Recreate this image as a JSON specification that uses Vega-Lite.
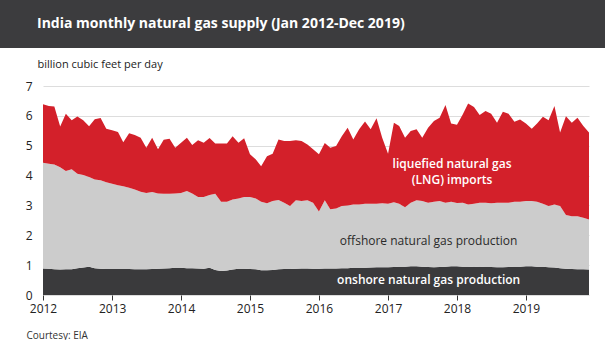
{
  "$schema": "https://vega.github.io/schema/vega-lite/v6.json",
  "padding": 0,
  "background": "white",
  "spacing": 10,
  "columns": 1,
  "align": "none",
  "config": {"view": {"stroke": null}, "font": "Open Sans"},
  "concat": [
    {
      "width": 605,
      "height": 48,
      "view": {"fill": "#3c3c3e", "stroke": null},
      "title": {"text": "India monthly natural gas supply (Jan 2012-Dec 2019)", "anchor": "start", "frame": "group", "offset": -42, "dx": 37, "color": "white", "fontSize": 14, "fontWeight": "bold", "font": "Open Sans", "baseline": "alphabetic"},
      "mark": {"type": "rule", "opacity": 0},
      "encoding": {}
    },
    {
      "width": 589,
      "height": 209,
      "encoding": {
        "x": {
          "field": "date", "type": "temporal",
          "scale": {"type": "utc", "nice": false, "range": [43, 589], "domain": [{"year": 2012, "month": 1, "date": 1, "utc": true}, {"year": 2019, "month": 12, "date": 1, "utc": true}]},
          "axis": {"format": "%Y", "tickCount": {"interval": "year", "step": 1}, "labelFontSize": 12, "labelColor": "#222222", "tickColor": "#333333", "tickSize": 5, "domain": false, "grid": false, "labelPadding": 3, "labelFlush": false,
                   "title": "Courtesy: EIA", "titleAnchor": "start", "titleX": 26, "titleY": 43, "titleAlign": "left", "titleBaseline": "alphabetic", "titleFontSize": 10, "titleFontWeight": "normal", "titleColor": "#333333"}
        },
        "y": {
          "field": "value", "type": "quantitative",
          "scale": {"domain": [0, 7], "nice": false},
          "axis": {"values": [0, 1, 2, 3, 4, 5, 6, 7], "offset": -43, "labelOverlap": false, "grid": true, "gridColor": "#dddddd", "gridWidth": 1, "ticks": false, "domain": false, "labelFontSize": 12, "labelColor": "#222222", "labelPadding": 11,
                   "title": "billion cubic feet per day", "titleAngle": 0, "titleX": -6, "titleY": -19, "titleAlign": "left", "titleBaseline": "alphabetic", "titleFontSize": 11, "titleFontWeight": "normal", "titleColor": "#222222"}
        }
      },
      "layer": [
        {
          "data": {"values": [
            {"date":"2012-01-01","onshore":0.89,"offshore":3.54,"lng":1.96},
            {"date":"2012-02-01","onshore":0.88,"offshore":3.52,"lng":1.93},
            {"date":"2012-03-01","onshore":0.86,"offshore":3.51,"lng":1.94},
            {"date":"2012-04-01","onshore":0.85,"offshore":3.43,"lng":1.36},
            {"date":"2012-05-01","onshore":0.86,"offshore":3.29,"lng":1.92},
            {"date":"2012-06-01","onshore":0.86,"offshore":3.35,"lng":1.64},
            {"date":"2012-07-01","onshore":0.90,"offshore":3.16,"lng":1.92},
            {"date":"2012-08-01","onshore":0.92,"offshore":3.10,"lng":1.83},
            {"date":"2012-09-01","onshore":0.95,"offshore":3.00,"lng":1.70},
            {"date":"2012-10-01","onshore":0.90,"offshore":2.97,"lng":2.02},
            {"date":"2012-11-01","onshore":0.88,"offshore":2.96,"lng":2.09},
            {"date":"2012-12-01","onshore":0.87,"offshore":2.91,"lng":1.79},
            {"date":"2013-01-01","onshore":0.87,"offshore":2.86,"lng":1.79},
            {"date":"2013-02-01","onshore":0.87,"offshore":2.81,"lng":1.78},
            {"date":"2013-03-01","onshore":0.87,"offshore":2.77,"lng":1.48},
            {"date":"2013-04-01","onshore":0.87,"offshore":2.72,"lng":1.83},
            {"date":"2013-05-01","onshore":0.86,"offshore":2.67,"lng":1.83},
            {"date":"2013-06-01","onshore":0.86,"offshore":2.60,"lng":1.81},
            {"date":"2013-07-01","onshore":0.86,"offshore":2.56,"lng":1.51},
            {"date":"2013-08-01","onshore":0.87,"offshore":2.58,"lng":1.82},
            {"date":"2013-09-01","onshore":0.88,"offshore":2.52,"lng":1.48},
            {"date":"2013-10-01","onshore":0.89,"offshore":2.50,"lng":1.81},
            {"date":"2013-11-01","onshore":0.90,"offshore":2.49,"lng":1.84},
            {"date":"2013-12-01","onshore":0.91,"offshore":2.49,"lng":1.53},
            {"date":"2014-01-01","onshore":0.91,"offshore":2.51,"lng":1.68},
            {"date":"2014-02-01","onshore":0.90,"offshore":2.58,"lng":1.79},
            {"date":"2014-03-01","onshore":0.90,"offshore":2.50,"lng":1.62},
            {"date":"2014-04-01","onshore":0.89,"offshore":2.39,"lng":1.90},
            {"date":"2014-05-01","onshore":0.88,"offshore":2.40,"lng":1.82},
            {"date":"2014-06-01","onshore":0.91,"offshore":2.44,"lng":1.91},
            {"date":"2014-07-01","onshore":0.84,"offshore":2.55,"lng":1.68},
            {"date":"2014-08-01","onshore":0.80,"offshore":2.32,"lng":1.95},
            {"date":"2014-09-01","onshore":0.82,"offshore":2.30,"lng":1.95},
            {"date":"2014-10-01","onshore":0.85,"offshore":2.35,"lng":2.12},
            {"date":"2014-11-01","onshore":0.88,"offshore":2.35,"lng":1.87},
            {"date":"2014-12-01","onshore":0.88,"offshore":2.40,"lng":1.97},
            {"date":"2015-01-01","onshore":0.87,"offshore":2.41,"lng":1.43},
            {"date":"2015-02-01","onshore":0.86,"offshore":2.37,"lng":1.31},
            {"date":"2015-03-01","onshore":0.83,"offshore":2.29,"lng":1.19},
            {"date":"2015-04-01","onshore":0.83,"offshore":2.24,"lng":1.58},
            {"date":"2015-05-01","onshore":0.84,"offshore":2.31,"lng":1.58},
            {"date":"2015-06-01","onshore":0.86,"offshore":2.32,"lng":2.03},
            {"date":"2015-07-01","onshore":0.87,"offshore":2.22,"lng":2.07},
            {"date":"2015-08-01","onshore":0.87,"offshore":2.11,"lng":2.18},
            {"date":"2015-09-01","onshore":0.88,"offshore":2.29,"lng":2.01},
            {"date":"2015-10-01","onshore":0.89,"offshore":2.26,"lng":2.01},
            {"date":"2015-11-01","onshore":0.89,"offshore":2.28,"lng":1.87},
            {"date":"2015-12-01","onshore":0.88,"offshore":2.21,"lng":1.79},
            {"date":"2016-01-01","onshore":0.88,"offshore":1.92,"lng":1.91},
            {"date":"2016-02-01","onshore":0.89,"offshore":2.28,"lng":1.92},
            {"date":"2016-03-01","onshore":0.89,"offshore":1.98,"lng":2.06},
            {"date":"2016-04-01","onshore":0.89,"offshore":2.01,"lng":2.09},
            {"date":"2016-05-01","onshore":0.90,"offshore":2.08,"lng":2.34},
            {"date":"2016-06-01","onshore":0.90,"offshore":2.10,"lng":2.60},
            {"date":"2016-07-01","onshore":0.91,"offshore":2.12,"lng":2.18},
            {"date":"2016-08-01","onshore":0.91,"offshore":2.12,"lng":2.52},
            {"date":"2016-09-01","onshore":0.91,"offshore":2.15,"lng":2.75},
            {"date":"2016-10-01","onshore":0.92,"offshore":2.14,"lng":2.49},
            {"date":"2016-11-01","onshore":0.93,"offshore":2.13,"lng":2.86},
            {"date":"2016-12-01","onshore":0.93,"offshore":2.14,"lng":2.20},
            {"date":"2017-01-01","onshore":0.93,"offshore":2.13,"lng":1.67},
            {"date":"2017-02-01","onshore":0.94,"offshore":2.17,"lng":2.66},
            {"date":"2017-03-01","onshore":0.95,"offshore":2.11,"lng":2.60},
            {"date":"2017-04-01","onshore":0.95,"offshore":1.99,"lng":2.33},
            {"date":"2017-05-01","onshore":0.96,"offshore":2.13,"lng":2.40},
            {"date":"2017-06-01","onshore":0.96,"offshore":2.21,"lng":2.38},
            {"date":"2017-07-01","onshore":0.95,"offshore":2.20,"lng":2.12},
            {"date":"2017-08-01","onshore":0.94,"offshore":2.15,"lng":2.51},
            {"date":"2017-09-01","onshore":0.93,"offshore":2.19,"lng":2.71},
            {"date":"2017-10-01","onshore":0.94,"offshore":2.21,"lng":2.79},
            {"date":"2017-11-01","onshore":0.95,"offshore":2.14,"lng":3.27},
            {"date":"2017-12-01","onshore":0.96,"offshore":2.16,"lng":2.62},
            {"date":"2018-01-01","onshore":0.96,"offshore":2.12,"lng":2.62},
            {"date":"2018-02-01","onshore":0.95,"offshore":2.14,"lng":2.96},
            {"date":"2018-03-01","onshore":0.95,"offshore":2.08,"lng":3.38},
            {"date":"2018-04-01","onshore":0.94,"offshore":2.12,"lng":3.24},
            {"date":"2018-05-01","onshore":0.95,"offshore":2.14,"lng":2.94},
            {"date":"2018-06-01","onshore":0.94,"offshore":2.15,"lng":3.07},
            {"date":"2018-07-01","onshore":0.94,"offshore":2.13,"lng":3.00},
            {"date":"2018-08-01","onshore":0.93,"offshore":2.16,"lng":2.68},
            {"date":"2018-09-01","onshore":0.93,"offshore":2.16,"lng":3.05},
            {"date":"2018-10-01","onshore":0.94,"offshore":2.15,"lng":2.98},
            {"date":"2018-11-01","onshore":0.95,"offshore":2.17,"lng":2.68},
            {"date":"2018-12-01","onshore":0.95,"offshore":2.17,"lng":2.76},
            {"date":"2019-01-01","onshore":0.96,"offshore":2.19,"lng":2.59},
            {"date":"2019-02-01","onshore":0.96,"offshore":2.19,"lng":2.42},
            {"date":"2019-03-01","onshore":0.95,"offshore":2.17,"lng":2.62},
            {"date":"2019-04-01","onshore":0.95,"offshore":2.11,"lng":2.91},
            {"date":"2019-05-01","onshore":0.93,"offshore":2.05,"lng":2.87},
            {"date":"2019-06-01","onshore":0.92,"offshore":2.11,"lng":3.30},
            {"date":"2019-07-01","onshore":0.90,"offshore":2.08,"lng":2.46},
            {"date":"2019-08-01","onshore":0.88,"offshore":1.80,"lng":3.31},
            {"date":"2019-09-01","onshore":0.87,"offshore":1.77,"lng":3.13},
            {"date":"2019-10-01","onshore":0.86,"offshore":1.78,"lng":3.30},
            {"date":"2019-11-01","onshore":0.86,"offshore":1.73,"lng":3.07},
            {"date":"2019-12-01","onshore":0.85,"offshore":1.68,"lng":2.91}
          ]},
          "transform": [{"fold": ["onshore", "offshore", "lng"], "as": ["source", "value"]}],
          "mark": {"type": "area", "interpolate": "linear"},
          "encoding": {
            "y": {"field": "value", "type": "quantitative", "stack": "zero"},
            "color": {"field": "source", "type": "nominal", "scale": {"domain": ["onshore", "offshore", "lng"], "range": ["#3a3a3c", "#cccccc", "#d3202a"]}, "legend": null},
            "order": {"field": "source", "sort": "descending"}
          }
        },
        {
          "data": {"values": [
            {"label": "liquefied natural gas", "date": "2017-12-06", "value": 4.26, "source": "lng"},
            {"label": "(LNG) imports", "date": "2017-12-06", "value": 3.71, "source": "lng"},
            {"label": "onshore natural gas production", "date": "2017-08-04", "value": 0.385, "source": "onshore"}
          ]},
          "mark": {"type": "text", "align": "center", "baseline": "alphabetic", "fontSize": 12, "fontWeight": 600, "color": "white"},
          "encoding": {
            "text": {"field": "label"}
          }
        },
        {
          "data": {"values": [
            {"label": "offshore natural gas production", "date": "2017-08-04", "value": 1.66, "source": "offshore"}
          ]},
          "mark": {"type": "text", "align": "center", "baseline": "alphabetic", "fontSize": 12, "fontWeight": "normal", "color": "#2a2a2a"},
          "encoding": {
            "text": {"field": "label"}
          }
        }
      ]
    }
  ]
}
